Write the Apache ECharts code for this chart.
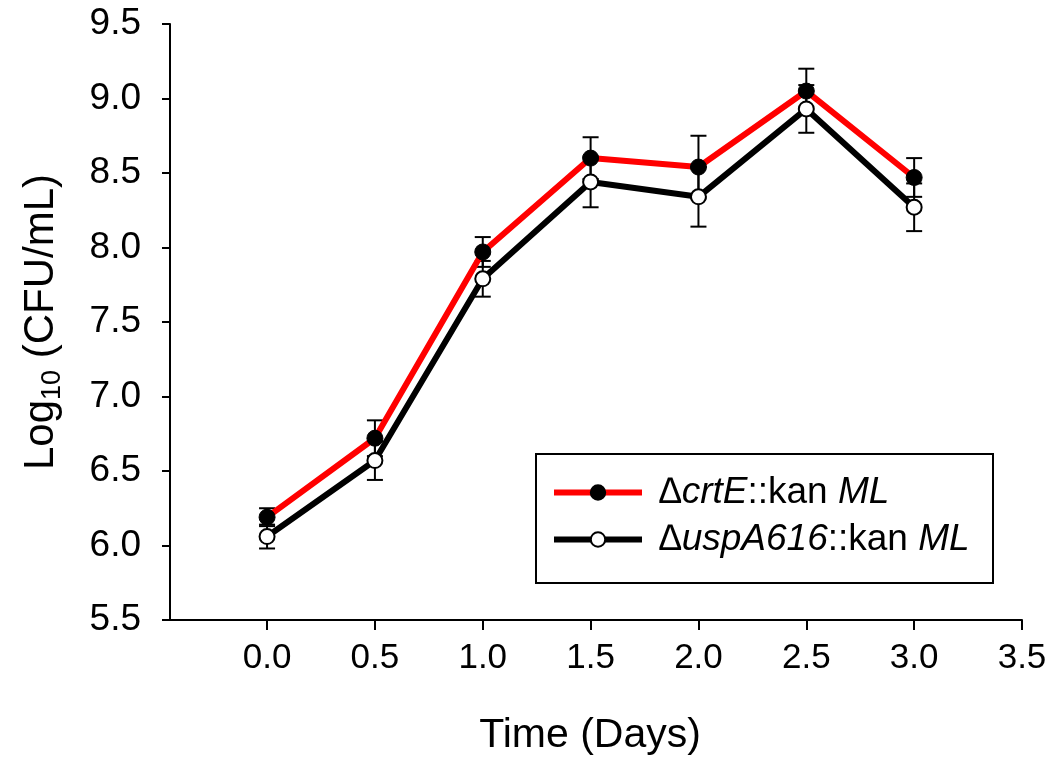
<!DOCTYPE html>
<html>
<head>
<meta charset="utf-8">
<script src="https://cdn.jsdelivr.net/npm/echarts@6/dist/echarts.min.js"></script>
<style>
  html, body { margin: 0; padding: 0; background: #fff; }
  #chart { width: 1054px; height: 761px; }
</style>
</head>
<body>
<div id="chart"></div>
<script>
// ---- data ----
const timeDays = [0, 0.5, 1.0, 1.5, 2.0, 2.5, 3.0];
const crtEValues = [6.19, 6.72, 7.97, 8.60, 8.54, 9.05, 8.47];
const crtEErrors = [0.06, 0.12, 0.10, 0.14, 0.21, 0.15, 0.13];
const uspAValues = [6.06, 6.57, 7.79, 8.44, 8.34, 8.93, 8.27];
const uspAErrors = [0.08, 0.13, 0.12, 0.17, 0.20, 0.16, 0.16];
const xTickValues = [0.0, 0.5, 1.0, 1.5, 2.0, 2.5, 3.0, 3.5];
const seriesNames = ['crtE', 'uspA'];
const legendLabels = {
  crtE: '{sp|}{i|\u2206crtE}{n|::kan }{i|ML}',
  uspA: '{sp|}{i|\u2206uspA616}{n|::kan }{i|ML}'
};

const FONT = '"Liberation Sans", Arial, Helvetica, sans-serif';

function pairs(vals) { return timeDays.map((t, i) => [t, vals[i]]); }
function errData(vals, errs) { return timeDays.map((t, i) => [t, vals[i] - errs[i], vals[i] + errs[i]]); }

function renderErr(params, api) {
  const x = api.value(0), lo = api.value(1), hi = api.value(2);
  const top = api.coord([x, hi]);
  const bot = api.coord([x, lo]);
  const hw = 8;
  const st = { stroke: '#000', lineWidth: 2 };
  return {
    type: 'group',
    children: [
      { type: 'line', shape: { x1: top[0], y1: top[1], x2: bot[0], y2: bot[1] }, style: st },
      { type: 'line', shape: { x1: top[0] - hw, y1: top[1], x2: top[0] + hw, y2: top[1] }, style: st },
      { type: 'line', shape: { x1: bot[0] - hw, y1: bot[1], x2: bot[0] + hw, y2: bot[1] }, style: st }
    ]
  };
}

const chart = echarts.init(document.getElementById('chart'), null, { renderer: 'canvas' });

chart.setOption({
  backgroundColor: '#fff',
  animation: false,
  textStyle: { fontFamily: FONT, color: '#000' },
  grid: { left: 170, right: 32, top: 24, bottom: 139, containLabel: false },
  xAxis: {
    type: 'value',
    min: -0.45,
    max: 3.5,
    name: 'Time (Days)',
    nameLocation: 'middle',
    nameGap: 95,
    nameTextStyle: { fontFamily: FONT, fontSize: 41, color: '#000', padding: [0, 12, 0, 0] },
    axisLine: { show: true, onZero: false, lineStyle: { color: '#000', width: 2 } },
    axisTick: { show: true, customValues: xTickValues, length: 10, inside: false, lineStyle: { color: '#000', width: 2 } },
    axisLabel: {
      customValues: xTickValues,
      margin: 21,
      fontFamily: FONT, fontSize: 35, color: '#000',
      formatter: v => Number(v).toFixed(1)
    },
    splitLine: { show: false }
  },
  yAxis: {
    type: 'value',
    min: 5.5,
    max: 9.5,
    interval: 0.5,
    name: '{n|Log}{s|10}{n| (CFU/mL)}',
    nameLocation: 'middle',
    nameGap: 104,
    nameTextStyle: {
      fontFamily: FONT, color: '#000',
      rich: {
        n: { fontFamily: FONT, fontSize: 42, lineHeight: 50, color: '#000', verticalAlign: 'middle' },
        s: { fontFamily: FONT, fontSize: 27, lineHeight: 27, color: '#000', verticalAlign: 'bottom' }
      }
    },
    axisLine: { show: true, onZero: false, lineStyle: { color: '#000', width: 2 } },
    axisTick: { show: true, length: 8, inside: false, lineStyle: { color: '#000', width: 2 } },
    axisLabel: {
      margin: 29,
      fontFamily: FONT, fontSize: 37, color: '#000',
      formatter: v => Number(v).toFixed(1)
    },
    splitLine: { show: false }
  },
  legend: {
    data: seriesNames,
    orient: 'vertical',
    left: 551,
    top: 474,
    padding: 0,
    itemWidth: 88,
    itemHeight: 18,
    itemGap: 10,
    lineStyle: { width: 6 },
    selectedMode: false,
    formatter: name => legendLabels[name],
    textStyle: {
      fontFamily: FONT, fontSize: 37, color: '#000',
      rich: {
        sp: { width: 12 },
        i: { fontFamily: FONT, fontSize: 37, fontStyle: 'italic', lineHeight: 40, color: '#000' },
        n: { fontFamily: FONT, fontSize: 37, lineHeight: 40, color: '#000' }
      }
    }
  },
  graphic: [
    {
      type: 'rect',
      z: 0,
      shape: { x: 536, y: 454, width: 457, height: 129 },
      style: { fill: 'rgba(0,0,0,0)', stroke: '#000', lineWidth: 2 }
    }
  ],
  series: [
    {
      name: 'crtEErr',
      type: 'custom',
      z: 1,
      renderItem: renderErr,
      encode: { x: 0, y: [1, 2] },
      data: errData(crtEValues, crtEErrors),
      silent: true
    },
    {
      name: 'uspAErr',
      type: 'custom',
      z: 1,
      renderItem: renderErr,
      encode: { x: 0, y: [1, 2] },
      data: errData(uspAValues, uspAErrors),
      silent: true
    },
    {
      name: 'crtE',
      type: 'line',
      z: 3,
      data: pairs(crtEValues),
      symbol: 'circle',
      symbolSize: 16,
      showAllSymbol: true,
      lineStyle: { color: '#ff0000', width: 6 },
      itemStyle: { color: '#000', borderColor: '#000', borderWidth: 1 }
    },
    {
      name: 'uspA',
      type: 'line',
      z: 3,
      data: pairs(uspAValues),
      symbol: 'circle',
      symbolSize: 15,
      showAllSymbol: true,
      lineStyle: { color: '#000', width: 6 },
      itemStyle: { color: '#fff', borderColor: '#000', borderWidth: 2 }
    }
  ]
});
</script>
</body>
</html>
